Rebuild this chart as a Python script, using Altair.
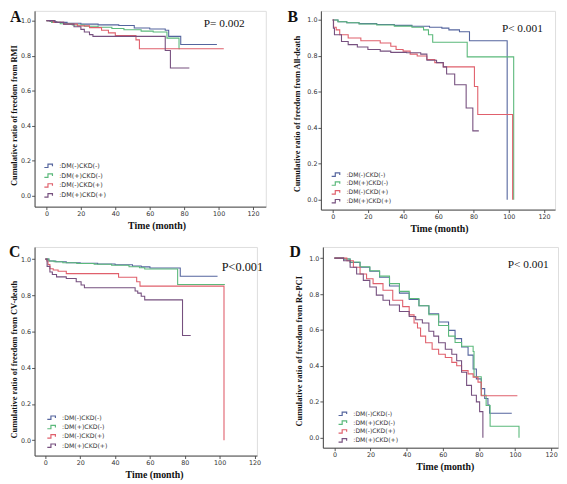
import altair as alt
import pandas as pd

GROUPS = ["DM(-)CKD(-)", "DM(+)CKD(-)", "DM(-)CKD(+)", "DM(+)CKD(+)"]
COLORS = ["#55659e", "#5bb97b", "#e0606c", "#76507f"]
X_TICKS = [0, 20, 40, 60, 80, 100, 120]
Y_TICKS = [0.0, 0.2, 0.4, 0.6, 0.8, 1.0]

# ---- Panel A : freedom from RMI ----
A_blue_t = [0, 2, 6, 12, 20, 30, 42, 51, 60, 69, 71, 78, 99]
A_blue_s = [1.0, 0.995, 0.99, 0.985, 0.98, 0.976, 0.972, 0.958, 0.952, 0.945, 0.91, 0.864, 0.864]
A_green_t = [0, 3, 8, 15, 22, 30, 38, 45, 55, 62, 70, 77, 77.5]
A_green_s = [1.0, 0.99, 0.982, 0.975, 0.968, 0.962, 0.955, 0.948, 0.94, 0.935, 0.90, 0.84, 0.84]
A_red_t = [0, 4, 10, 18, 25, 32, 36, 40, 52, 54, 103]
A_red_s = [1.0, 0.99, 0.98, 0.97, 0.96, 0.945, 0.93, 0.915, 0.89, 0.84, 0.84]
A_purple_t = [0, 5, 10, 16, 20, 22, 25, 27, 69, 72, 83]
A_purple_s = [1.0, 0.99, 0.98, 0.965, 0.95, 0.935, 0.92, 0.91, 0.83, 0.73, 0.73]

# ---- Panel B : freedom from all-death ----
B_blue_t = [0, 3, 8, 15, 25, 35, 45, 55, 62, 66, 72, 77.7, 99.1]
B_blue_s = [1.0, 0.99, 0.985, 0.98, 0.975, 0.97, 0.965, 0.96, 0.955, 0.945, 0.935, 0.885, 0.0]
B_green_t = [0, 3, 8, 15, 25, 35, 45, 51.6, 54.4, 56.8, 76.4, 102.8]
B_green_s = [1.0, 0.99, 0.985, 0.978, 0.972, 0.966, 0.96, 0.945, 0.918, 0.876, 0.795, 0.0]
B_red_t = [0, 0.5, 2, 4, 8.8, 16, 27, 33, 36, 40, 44, 48, 53.5, 58, 62.8, 80.5, 82.4, 102.2]
B_red_s = [1.0, 0.96, 0.945, 0.918, 0.90, 0.885, 0.872, 0.854, 0.836, 0.827, 0.81, 0.80, 0.78, 0.763, 0.739, 0.63, 0.474, 0.0]
B_purple_t = [0, 0.4, 1, 5, 8.8, 14, 20, 27, 33, 42, 50, 53.5, 59, 62.8, 64.7, 69.3, 75.8, 79.6, 83]
B_purple_s = [1.0, 0.954, 0.918, 0.88, 0.863, 0.85, 0.836, 0.827, 0.82, 0.818, 0.81, 0.776, 0.763, 0.739, 0.70, 0.64, 0.51, 0.383, 0.383]

# ---- Panel C : freedom from CV-death ----
C_blue_t = [0, 2, 6, 12, 20, 30, 40, 50, 55, 60, 77.4, 98.8]
C_blue_s = [1.0, 0.99, 0.985, 0.98, 0.977, 0.973, 0.969, 0.962, 0.957, 0.951, 0.905, 0.905]
C_green_t = [0, 2, 5, 10, 18, 28, 38, 48, 54, 57, 75.9, 103]
C_green_s = [1.0, 0.99, 0.985, 0.98, 0.976, 0.972, 0.966, 0.958, 0.952, 0.945, 0.86, 0.86]
C_red_t = [0, 0.8, 1.5, 2.6, 4.5, 7.3, 12, 42, 52.4, 54.3, 102.5]
C_red_s = [1.0, 0.99, 0.97, 0.947, 0.94, 0.933, 0.92, 0.90, 0.875, 0.851, 0.0]
C_purple_t = [0, 1, 2.6, 4, 6.4, 12, 17.7, 20.5, 22.4, 51.5, 53, 55, 57, 78.7, 83.4]
C_purple_s = [1.0, 0.96, 0.929, 0.915, 0.902, 0.893, 0.875, 0.857, 0.842, 0.824, 0.812, 0.795, 0.775, 0.578, 0.578]

# ---- Panel D : freedom from Re-PCI ----
D_blue_t = [0, 5.1, 8.7, 14.2, 19.6, 25, 30.5, 36, 41.4, 46.8, 52.3, 57.7, 63.2, 66.8, 70.4, 74, 76.8, 78.6, 81.3, 83.2, 85, 85.9, 98.2]
D_blue_s = [1.0, 0.995, 0.976, 0.949, 0.927, 0.894, 0.845, 0.805, 0.77, 0.735, 0.69, 0.645, 0.598, 0.552, 0.505, 0.46, 0.383, 0.328, 0.274, 0.219, 0.182, 0.137, 0.137]
D_green_t = [0, 5.1, 8.7, 14.2, 19.6, 25, 30.5, 36, 41.4, 46.8, 52.3, 57.7, 63.2, 66.8, 70.4, 76.8, 77.3, 81.3, 84, 86.2, 102.2]
D_green_s = [1.0, 0.995, 0.978, 0.952, 0.93, 0.9, 0.858, 0.815, 0.775, 0.735, 0.685, 0.625, 0.566, 0.53, 0.51, 0.48, 0.34, 0.237, 0.18, 0.064, 0.0]
D_red_t = [0, 6.9, 10.5, 14.2, 17.8, 21.4, 26.9, 32.3, 37.8, 41.4, 44.1, 46, 47.7, 50.5, 54.1, 57.7, 61.4, 65, 67.7, 70.4, 74, 76.8, 79.5, 81.3, 101.3]
D_red_s = [1.0, 0.985, 0.949, 0.912, 0.885, 0.858, 0.821, 0.766, 0.73, 0.684, 0.639, 0.611, 0.566, 0.529, 0.493, 0.465, 0.447, 0.42, 0.401, 0.374, 0.356, 0.338, 0.31, 0.234, 0.234]
D_purple_t = [0, 5.1, 8.7, 12.3, 16, 19.6, 23.2, 26.9, 30.5, 36, 41.4, 45, 48.7, 52.3, 55, 57.7, 61.4, 65, 67.7, 70.4, 73.2, 75.9, 78.6, 80.4, 82.2]
D_purple_s = [1.0, 0.985, 0.949, 0.912, 0.876, 0.839, 0.794, 0.766, 0.739, 0.703, 0.675, 0.657, 0.639, 0.593, 0.566, 0.529, 0.493, 0.465, 0.429, 0.365, 0.292, 0.237, 0.2, 0.146, 0.0]

# P-value annotations (text, month, survival)
P_TEXT = ["P= 0.002", "P< 0.001", "P<0.001", "P< 0.001"]
P_T = [91.4, 96.1, 101.2, 96.0]
P_S = [0.966, 0.936, 0.936, 0.947]
LETTERS = ["A", "B", "C", "D"]
Y_TITLES = [
    "Cumulative ratio of freedom from RMI",
    "Cumulative ratio of freedom from All-death",
    "Cumulative ratio of freedom from CV-death",
    "Cumulative ratio of freedom from Re-PCI",
]

CURVES = [
    [(A_blue_t, A_blue_s), (A_green_t, A_green_s), (A_red_t, A_red_s), (A_purple_t, A_purple_s)],
    [(B_blue_t, B_blue_s), (B_green_t, B_green_s), (B_red_t, B_red_s), (B_purple_t, B_purple_s)],
    [(C_blue_t, C_blue_s), (C_green_t, C_green_s), (C_red_t, C_red_s), (C_purple_t, C_purple_s)],
    [(D_blue_t, D_blue_s), (D_green_t, D_green_s), (D_red_t, D_red_s), (D_purple_t, D_purple_s)],
]

# layout settings per panel
LAYOUT = [
    dict(w=235, h=199, xd=[-6.9, 127.4], yd=[-0.062, 1.056], lx=10, ly=153, rp=1.0, lfs=6.5, ltx=-25, lty=-2, tp=2.0, tx=124, ty=106, psize=11.5),
    dict(w=238, h=202, xd=[-6.7, 126.3], yd=[-0.055, 1.051], lx=11, ly=162, rp=0.0, lfs=6.2, ltx=-34, lty=-2, tp=5.5, tx=120, ty=104.5, psize=11.5),
    dict(w=226, h=212, xd=[-6.2, 121.4], yd=[-0.085, 1.067], lx=13, ly=169, rp=0.5, lfs=6.3, ltx=-26, lty=-3, tp=2.5, tx=121.5, ty=114, psize=12.5),
    dict(w=239, h=204, xd=[-6.4, 123.8], yd=[-0.055, 1.062], lx=16, ly=165, rp=0.0, lfs=6.2, ltx=-34, lty=-3, tp=5.5, tx=124, ty=105.5, psize=11.5),
]

STEP_PATH = "M-1.3,0.5L-0.25,0.5L-0.25,-0.5L1.05,-0.5L1.05,0.1"


def panel(i):
    cfg = LAYOUT[i]
    rows = []
    for g, (ts, ss) in zip(GROUPS, CURVES[i]):
        for k, (t, s) in enumerate(zip(ts, ss)):
            rows.append({"t": t, "s": s, "group": g, "k": k})
    df = pd.DataFrame(rows)

    xscale = alt.Scale(domain=cfg["xd"], nice=False, zero=False)
    yscale = alt.Scale(domain=cfg["yd"], nice=False, zero=False)

    xaxis = alt.Axis(values=X_TICKS, title="Time (month)", titleFont="Liberation Serif",
                     titleFontSize=10, titleFontWeight="bold", titleColor="#111",
                     labelFont="DejaVu Sans", labelFontSize=6.5, labelColor="#333",
                     labelFlush=False, labelOverlap=False, tickSize=3, tickColor="#555",
                     domainColor="#444", labelPadding=1, titlePadding=4, grid=False,
                     titleX=cfg["tx"])
    yaxis = alt.Axis(values=Y_TICKS, format=".1f", title=Y_TITLES[i],
                     titleFont="Liberation Serif", titleFontSize=8.5, titleFontWeight="bold",
                     titleColor="#111", labelFont="DejaVu Sans", labelFontSize=6.5,
                     labelColor="#333", labelFlush=False, labelOverlap=False, tickSize=3,
                     tickColor="#555", domainColor="#444", labelPadding=1,
                     titlePadding=cfg["tp"], grid=False, titleY=cfg["ty"])
    legend = alt.Legend(title=None, orient="none", legendX=cfg["lx"], legendY=cfg["ly"],
                        symbolType=STEP_PATH, symbolSize=49, symbolStrokeWidth=1.2,
                        symbolFillColor="transparent", labelFont="DejaVu Sans",
                        labelFontSize=cfg["lfs"], labelColor="#333",
                        labelExpr="':' + datum.label", rowPadding=cfg["rp"], padding=0,
                        labelOffset=6)

    lines = alt.Chart(df).mark_line(interpolate="step-after", strokeWidth=1.1).encode(
        x=alt.X("t:Q", scale=xscale, axis=xaxis),
        y=alt.Y("s:Q", scale=yscale, axis=yaxis),
        color=alt.Color("group:N", scale=alt.Scale(domain=GROUPS, range=COLORS),
                        sort=GROUPS, legend=legend),
        order="k:Q",
    )

    pdf = pd.DataFrame({"t": [P_T[i]], "s": [P_S[i]], "label": [P_TEXT[i]]})
    ptext = alt.Chart(pdf).mark_text(font="Liberation Serif", fontSize=cfg["psize"],
                                     align="left", baseline="alphabetic", color="#111").encode(
        x=alt.X("t:Q", scale=xscale, axis=xaxis), y=alt.Y("s:Q", scale=yscale, axis=yaxis),
        text="label:N")

    ldf = pd.DataFrame({"letter": [LETTERS[i]]})
    letter = alt.Chart(ldf).mark_text(font="Liberation Serif", fontSize=16, fontWeight="bold",
                                      align="left", baseline="top", color="#111").encode(
        x=alt.value(cfg["ltx"]), y=alt.value(cfg["lty"]), text="letter:N")

    return alt.layer(lines, ptext, letter).properties(width=cfg["w"], height=cfg["h"])


top = alt.hconcat(panel(0), panel(1), spacing=20).resolve_scale(color="independent")
bottom = alt.hconcat(panel(2), panel(3), spacing=25).resolve_scale(color="independent")
chart = alt.vconcat(top, bottom, spacing=9).resolve_scale(color="independent").properties(
    padding={"left": 0, "top": -4, "right": 0, "bottom": 0}
).configure_view(stroke="#777", strokeWidth=1).configure_axis(
    labelOverlap=False
).configure(background="white")

chart.save("out.html", embed_options={"renderer": "svg", "actions": False})
